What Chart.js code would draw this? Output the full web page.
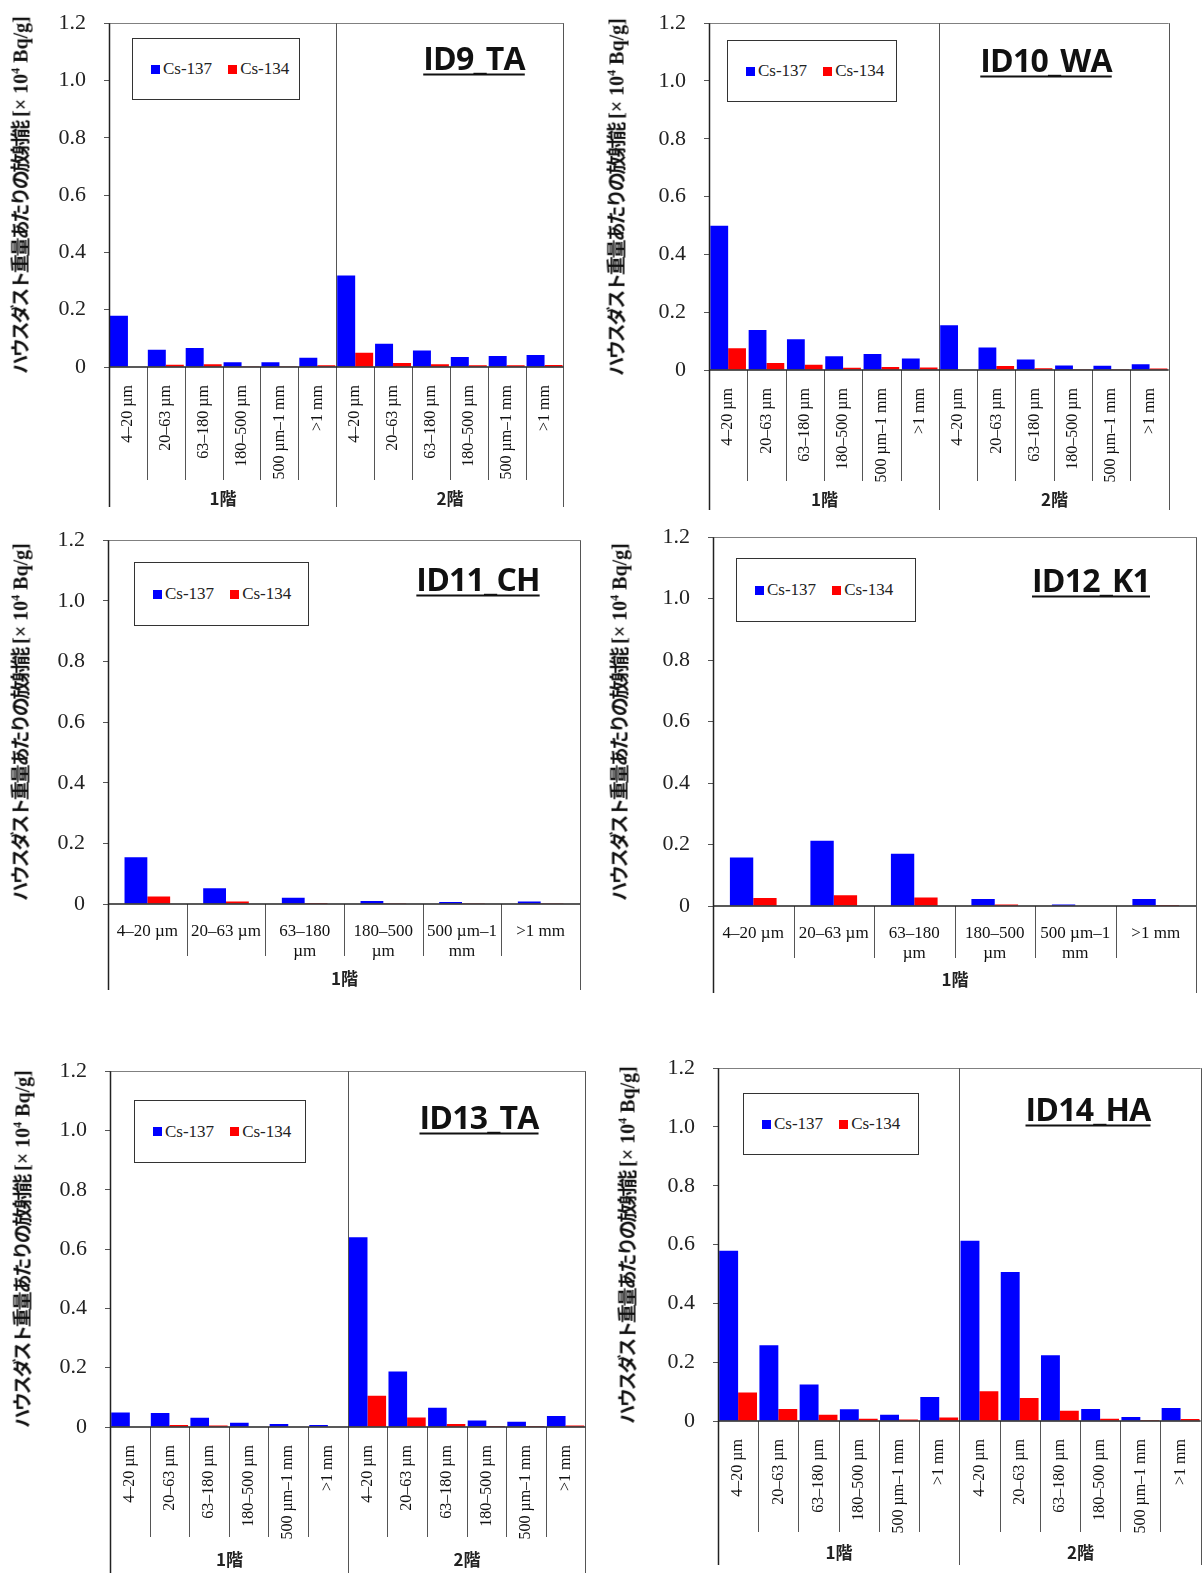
<!DOCTYPE html>
<html>
<head>
<meta charset="utf-8">
<script src="https://cdn.jsdelivr.net/npm/chart.js@4.4.1/dist/chart.umd.min.js"></script>
<style>
  html, body { margin: 0; padding: 0; background: #fff; }
  body { width: 1203px; height: 1573px; position: relative; overflow: hidden; }
  canvas { position: absolute; }
  .ytitle { position: absolute; white-space: nowrap; transform: translate(-50%, -50%) rotate(-90deg); color: #111; }
  .ytitle .jp { font-family: "Noto Sans CJK JP"; font-weight: 700; font-size: 19px; letter-spacing: -2.2px; }
  .ytitle .unit { font-family: "Liberation Serif"; font-weight: 700; font-size: 20px; }
  .ytitle sup { font-size: 12px; }
  .ptitle { position: absolute; transform: translate(-50%, -50%); font-family: "Open Sans"; font-weight: 700;
            font-size: 32px; text-decoration: underline; text-decoration-thickness: 2px; text-underline-offset: 4px;
            color: #111; white-space: nowrap; letter-spacing: -0.8px; }
  .legend { position: absolute; border: 1px solid #333; box-sizing: border-box; display: flex; align-items: center;
            font-family: "Liberation Serif"; font-size: 17px; color: #222; padding-left: 18px; background: #fff;
            white-space: nowrap; }
  .legend .item { display: flex; align-items: center; margin-right: 16px; flex-shrink: 0; }
  .legend .sw { display: inline-block; width: 9px; height: 9px; margin-right: 3px; }
</style>
</head>
<body>
<script>
// particle size classes and floors
const sizes = ['4–20 µm', '20–63 µm', '63–180 µm', '180–500 µm', '500 µm–1 mm', '>1 mm'];
const sizesWrapped = ['4–20 µm', '20–63 µm', ['63–180', 'µm'], ['180–500', 'µm'], ['500 µm–1', 'mm'], '>1 mm'];
const floors = ['1階', '2階'];
const yTicks = [0, 0.2, 0.4, 0.6, 0.8, 1.0, 1.2];
const seriesNames = ['Cs-137', 'Cs-134'];
const seriesColors = ['#0000ff', '#ff0000'];

// values [x 10^4 Bq/g], 1階 then 2階
const id9Cs137  = [0.179, 0.060, 0.066, 0.017, 0.017, 0.032, 0.319, 0.081, 0.058, 0.035, 0.038, 0.042];
const id9Cs134  = [0,     0.008, 0.010, 0.003, 0.003, 0.006, 0.050, 0.014, 0.010, 0.006, 0.006, 0.007];
const id10Cs137 = [0.499, 0.138, 0.106, 0.048, 0.055, 0.040, 0.155, 0.078, 0.036, 0.016, 0.015, 0.020];
const id10Cs134 = [0.075, 0.024, 0.018, 0.008, 0.010, 0.009, 0,     0.014, 0.006, 0.003, 0.003, 0.005];
const id11Cs137 = [0.154, 0.052, 0.021, 0.010, 0.007, 0.008];
const id11Cs134 = [0.025, 0.008, 0.003, 0.001, 0.001, 0.001];
const id12Cs137 = [0.158, 0.212, 0.170, 0.023, 0.005, 0.023];
const id12Cs134 = [0.026, 0.035, 0.028, 0.005, 0.002, 0.003];
const id13Cs137 = [0.049, 0.047, 0.031, 0.014, 0.010, 0.007, 0.640, 0.187, 0.065, 0.022, 0.018, 0.037];
const id13Cs134 = [0,     0.007, 0.005, 0,     0,     0,     0.105, 0.032, 0.010, 0.003, 0.003, 0.005];
const id14Cs137 = [0.579, 0.258, 0.124, 0.040, 0.021, 0.082, 0.613, 0.507, 0.224, 0.041, 0.014, 0.044];
const id14Cs134 = [0.097, 0.041, 0.021, 0.008, 0.005, 0.012, 0.101, 0.078, 0.035, 0.008, 0.003, 0.007];

const panels = [
  { name: 'ID9_TA',  c137: id9Cs137,  c134: id9Cs134,  nFloors: 2, area: [109, 23, 563, 367],  sepB: 480,  outB: 507,  grpY: 499,
    catPct: 0.95, legend: [132, 38, 168, 62],   title: [474, 57],   yTitleX: 19 },
  { name: 'ID10_WA', c137: id10Cs137, c134: id10Cs134, nFloors: 2, area: [709, 23, 1169, 370], sepB: 481,  outB: 510,  grpY: 500,
    catPct: 0.93, legend: [727, 40, 170, 62],   title: [1046, 59],  yTitleX: 615 },
  { name: 'ID11_CH', c137: id11Cs137, c134: id11Cs134, nFloors: 1, area: [108, 540, 580, 904], sepB: 956,  outB: 990,  grpY: 979,
    catPct: 0.58, legend: [134, 562, 175, 64],  title: [478, 578],  yTitleX: 19 },
  { name: 'ID12_K1', c137: id12Cs137, c134: id12Cs134, nFloors: 1, area: [713, 537, 1196, 906], sepB: 958,  outB: 993,  grpY: 980,
    catPct: 0.58, legend: [736, 558, 180, 64],  title: [1091, 579], yTitleX: 618 },
  { name: 'ID13_TA', c137: id13Cs137, c134: id13Cs134, nFloors: 2, area: [110, 1071, 585, 1427], sepB: 1537, outB: 1573, grpY: 1560,
    catPct: 0.94, legend: [134, 1100, 172, 63], title: [479, 1116], yTitleX: 21 },
  { name: 'ID14_HA', c137: id14Cs137, c134: id14Cs134, nFloors: 2, area: [718, 1068, 1201, 1421], sepB: 1532, outB: 1565, grpY: 1553,
    catPct: 0.94, legend: [743, 1093, 176, 62], title: [1088, 1108], yTitleX: 626 },
];

// frame, category separators and floor labels under the axis
const framePlugin = {
  id: 'frame',
  afterDraw(chart, args, o) {
    const { ctx, chartArea: a, scales: { x } } = chart;
    const n = chart.data.labels.length;
    const per = n / o.groups.length;
    const edge = i => Math.round(x.getPixelForValue(i - 0.5)) + 0.5;
    const line = (x1, y1, x2, y2) => { ctx.beginPath(); ctx.moveTo(x1, y1); ctx.lineTo(x2, y2); ctx.stroke(); };
    const sepB = a.bottom + o.sepOff, outB = a.bottom + o.outOff;
    ctx.save();
    ctx.lineWidth = 1;
    ctx.strokeStyle = '#808080';
    line(a.left, Math.round(a.top) + 0.5, a.right, Math.round(a.top) + 0.5);
    for (let i = 0; i <= n; i++) {
      const px = edge(i);
      if (i % per === 0) {
        ctx.strokeStyle = i === 0 ? '#222' : '#555';
        ctx.lineWidth = i === 0 ? 1.5 : 1;
        line(px, a.top, px, outB);
      } else {
        ctx.strokeStyle = '#555';
        ctx.lineWidth = 1;
        line(px, a.bottom, px, sepB);
      }
    }
    ctx.strokeStyle = '#222';
    ctx.lineWidth = 1.5;
    line(a.left, a.bottom, a.right, a.bottom);
    ctx.fillStyle = '#222';
    ctx.font = 'bold 17px "Noto Sans CJK JP"';
    ctx.textAlign = 'center';
    ctx.textBaseline = 'middle';
    o.groups.forEach((g, k) => {
      const cx = (edge(k * per) + edge((k + 1) * per)) / 2;
      ctx.fillText(g, cx, a.bottom + o.grpOff);
    });
    ctx.restore();
  }
};

function addDiv(cls, html, css) {
  const d = document.createElement('div');
  d.className = cls;
  d.innerHTML = html;
  Object.assign(d.style, css);
  document.body.appendChild(d);
  return d;
}

function makeConfig(p, padL, padT, padR, padB) {
  const [l, t, r, b] = p.area;
  const groups = floors.slice(0, p.nFloors);
  const rotated = p.nFloors === 2;
  let labels = [];
  groups.forEach(() => { labels = labels.concat(rotated ? sizes : sizesWrapped); });
  return {
    type: 'bar',
    data: {
      labels: labels,
      datasets: [
        { label: seriesNames[0], data: p.c137, backgroundColor: seriesColors[0], borderWidth: 0 },
        { label: seriesNames[1], data: p.c134, backgroundColor: seriesColors[1], borderWidth: 0 },
      ],
    },
    options: {
      responsive: false,
      maintainAspectRatio: false,
      animation: false,
      devicePixelRatio: 1,
      layout: { padding: { left: 0, top: padT, right: padR, bottom: padB } },
      datasets: { bar: { barPercentage: 1, categoryPercentage: p.catPct } },
      scales: {
        x: {
          grid: { display: false },
          border: { display: false },
          afterFit: s => { s.height = p.outB - b; },
          ticks: {
            autoSkip: false,
            minRotation: rotated ? 90 : 0,
            maxRotation: rotated ? 90 : 0,
            padding: rotated ? 10 : 9,
            color: '#111',
            font: { family: 'Liberation Serif', size: rotated ? 16 : 17, lineHeight: 1.2 },
          },
        },
        y: {
          min: 0,
          max: 1.2,
          afterFit: s => { s.width = padL; },
          afterBuildTicks: s => { s.ticks = yTicks.map(v => ({ value: v })); },
          grid: { display: true, drawOnChartArea: false, drawTicks: true, tickLength: 5, color: '#555' },
          border: { display: false },
          ticks: {
            padding: 18,
            color: '#222',
            font: { family: 'Liberation Serif', size: 22 },
            callback: v => (v === 0 ? '0' : v.toFixed(1)),
          },
        },
      },
      plugins: {
        legend: { display: false },
        tooltip: { enabled: false },
        frame: { groups: groups, sepOff: p.sepB - b, outOff: p.outB - b, grpOff: p.grpY - b },
      },
    },
    plugins: [framePlugin],
  };
}

panels.forEach(p => {
  const [l, t, r, b] = p.area;
  const padL = 100, padT = 24, padR = 6, padB = 2;
  const xH = p.outB - b;
  let cLeft = l - padL, cTop = t - padT;
  let W = r - l + padL + padR, H = p.outB - t + padT + padB;
  const canvas = document.createElement('canvas');
  document.body.appendChild(canvas);
  const place = () => {
    canvas.width = W; canvas.height = H;
    canvas.style.left = cLeft + 'px'; canvas.style.top = cTop + 'px';
    canvas.style.width = W + 'px'; canvas.style.height = H + 'px';
  };
  place();
  let chart = new Chart(canvas.getContext('2d'), makeConfig(p, padL, padT, padR, padB));

  // the library may reserve extra room for tick labels; grow the canvas so the plot area lands where wanted
  const a = chart.chartArea;
  const dl = Math.round(a.left - padL), dt = Math.round(a.top - padT);
  const dr = Math.round((W - padR) - a.right), db = Math.round((H - padB - xH) - a.bottom);
  if (dl || dt || dr || db) {
    chart.destroy();
    cLeft -= dl; cTop -= dt; W += dl + dr; H += dt + db;
    place();
    chart = new Chart(canvas.getContext('2d'), makeConfig(p, padL, padT, padR, padB));
  }

  // y axis title
  addDiv('ytitle',
    '<span class="jp">ハウスダスト重量あたりの放射能</span><span class="unit"> [× 10<sup>4</sup> Bq/g]</span>',
    { left: p.yTitleX + 'px', top: ((t + b) / 2) + 'px' });

  // panel id
  addDiv('ptitle', p.name, { left: p.title[0] + 'px', top: p.title[1] + 'px' });

  // legend box
  const [lx, ly, lw, lh] = p.legend;
  const items = seriesNames.map((s, i) =>
    '<span class="item"><span class="sw" style="background:' + seriesColors[i] + '"></span>' + s + '</span>').join('');
  addDiv('legend', items, { left: lx + 'px', top: ly + 'px', width: lw + 'px', height: lh + 'px' });
});
</script>
</body>
</html>
